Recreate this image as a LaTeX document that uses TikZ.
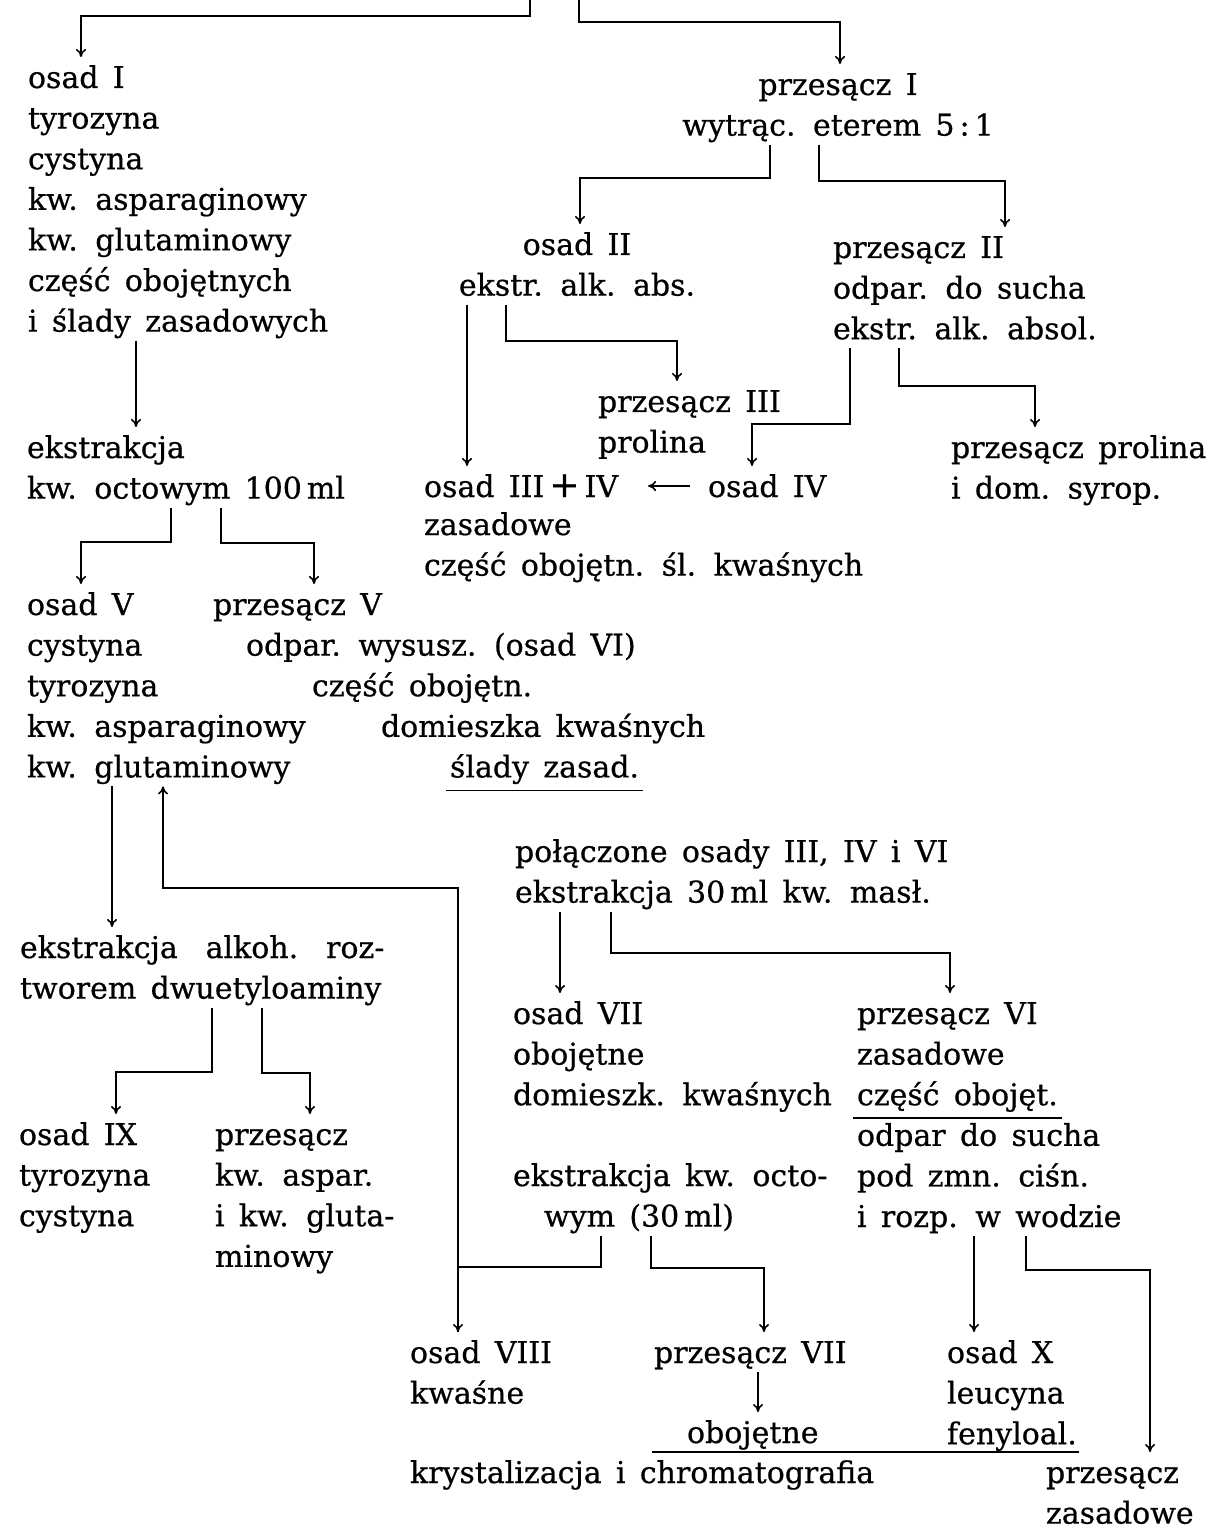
\documentclass[tikz,border=0pt]{standalone}
\usepackage{fontspec}
\setmainfont{DejaVu Serif}[WordSpace=1.5,FakeBold=0.6]
\usetikzlibrary{arrows.meta}
\newcommand{\sx}{\rule[-3.5pt]{0pt}{18pt}}
\newlength{\ulw}
\newcommand{\ulined}[1]{\settowidth{\ulw}{#1}\rlap{\hspace*{-2pt}\rule[-7pt]{\dimexpr\ulw+4pt\relax}{0.9pt}}#1}

\begin{document}
\begin{tikzpicture}[->,>={To[length=4pt,width=5pt]},line width=0.8pt,x=0.5pt,y=-0.5pt,
	txt/.style={inner sep=0pt,outer sep=1pt,anchor=north west,align=left,font=\fontsize{15}{20.3}\selectfont}]
	
	\useasboundingbox (0,0) rectangle (1209,1529);
	
	\coordinate (t1) at (530,0);
	\coordinate (t2) at (579,0);
	
	\node[txt] (o1) at (26,57) {\sx osad I\\tyrozyna\\cystyna\\kw. asparaginowy\\kw. glutaminowy\\część obojętnych\\i ślady zasadowych\sx};
	\node[txt,anchor=north,align=center] (p1) at (838,64) {\sx przesącz I\\wytrąc. eterem 5\,:\,1\sx};
	\node[txt,anchor=north,align=center] (o2) at (577,224) {\sx osad II\\ekstr. alk. abs.\sx};
	\node[txt] (p2) at (831,227) {\sx przesącz II\\odpar. do sucha\\ekstr. alk. absol.\sx};
	\node[txt] (p3) at (596,381) {\sx przesącz III\\prolina\sx};
	\node[txt] (pp) at (949,427) {\sx przesącz prolina\\i dom. syrop.\sx};
	\node[txt] (e1) at (25,427) {\sx ekstrakcja\\kw. octowym 100\,ml\sx};
	\node[txt] (o34) at (422,466) {\sx osad III\,{\fontsize{18}{18}\selectfont +}\,IV\sx};
	\node[txt] (o4) at (706,466) {\sx osad IV\sx};
	\node[txt] (o34d) at (422,504) {\sx zasadowe\\część obojętn. śl. kwaśnych\sx};
	\node[txt] (o5) at (25,584) {\sx osad V\\cystyna\\tyrozyna\\kw. asparaginowy\\kw. glutaminowy\sx};
	\node[txt] (p5) at (211,584) {\sx przesącz V\\\hspace*{16.5pt}odpar. wysusz. (osad VI)\\\hspace*{49.5pt}część obojętn.\\\hspace*{84pt}domieszka kwaśnych\\\hspace*{118.5pt}\ulined{ślady zasad.}\sx};
	\node[txt] (pc) at (513,831) {\sx połączone osady III, IV i VI\\ekstrakcja 30\,ml kw. masł.\sx};
	\node[txt] (e2) at (18,927) {\sx ekstrakcja\hspace{0.93em}alkoh.\hspace{0.93em}roz-\\tworem dwuetyloaminy\sx};
	\node[txt] (o7) at (511,993) {\sx osad VII\\obojętne\\domieszk. kwaśnych\sx};
	\node[txt] (p6) at (855,993) {\sx przesącz VI\\zasadowe\\\ulined{część obojęt.}\\odpar do sucha\\pod zmn. ciśn.\\i rozp. w wodzie\sx};
	\node[txt] (e3) at (511,1155) {\sx ekstrakcja kw. octo-\\\hspace*{15.5pt}wym (30\,ml)\sx};
	\node[txt] (o9) at (17,1114) {\sx osad IX\\tyrozyna\\cystyna\sx};
	\node[txt] (pk) at (213,1114) {\sx przesącz\\kw. aspar.\\i kw. gluta-\\minowy\sx};
	\node[txt] (o8) at (408,1332) {\sx osad VIII\\kwaśne\sx};
	\node[txt] (p7) at (652,1332) {\sx przesącz VII\sx};
	\node[txt] (ob) at (685,1412) {\sx obojętne\sx};
	\node[txt] (o10) at (945,1332) {\sx osad X\\leucyna\\fenyloal.\sx};
	\node[txt] (kr) at (408,1452) {\sx krystalizacja i chromatografia\sx};
	\node[txt] (pz) at (1044,1452) {\sx przesącz\\zasadowe\sx};
	
	\draw (t1) |- (81,16) -- (o1.north -| 81,0);
	\draw (t2) |- (840,22) -- (p1.north -| 840,0);
	\draw (p1.south -| 770,0) |- (580,178) -- (o2.north -| 580,0);
	\draw (p1.south -| 819,0) |- (1005,181) -- (p2.north -| 1005,0);
	\draw (o2.south -| 467,0) -- (o34.north -| 467,0);
	\draw (o2.south -| 506,0) |- (677,341) -- (p3.north -| 677,0);
	\draw (p2.south -| 850,0) |- (752,424) -- (o4.north -| 752,0);
	\draw (p2.south -| 899,0) |- (1035,386) -- (pp.north -| 1035,0);
	\draw[shorten <=8pt,shorten >=14pt] (o4.west) -- (o34.east);
	\draw (o1.south -| 136,0) -- (e1.north -| 136,0);
	\draw (e1.south -| 171,0) |- (81,542) -- (o5.north -| 81,0);
	\draw (e1.south -| 221,0) |- (314,543) -- (p5.north -| 314,0);
	\draw (o5.south -| 112,0) -- (e2.north -| 112,0);
	\draw (o8.north -| 458,0) |- (163,888) -- (o5.south -| 163,0);
	\draw (e2.south -| 212,0) |- (116,1072) -- (o9.north -| 116,0);
	\draw (e2.south -| 262,0) |- (310,1073) -- (pk.north -| 310,0);
	\draw (pc.south -| 560,0) -- (o7.north -| 560,0);
	\draw (pc.south -| 611,0) |- (950,953) -- (p6.north -| 950,0);
	\draw (e3.south -| 601,0) |- (458,1267) -- (o8.north -| 458,0);
	\draw (e3.south -| 651,0) |- (764,1268) -- (p7.north -| 764,0);
	\draw (p7.south -| 758,0) -- (ob.north -| 758,0);
	\draw (p6.south -| 974,0) -- (o10.north -| 974,0);
	\draw (p6.south -| 1026,0) |- (1150,1270) -- (pz.north -| 1150,0);
	\draw[-] (ob.south -| p7.west) -- (ob.south -| o10.east);
	
\end{tikzpicture}
\end{document}
